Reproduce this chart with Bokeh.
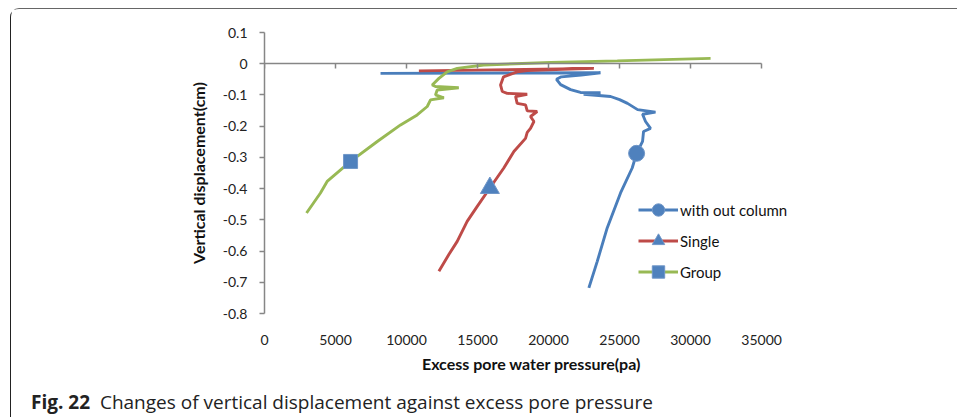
from bokeh.plotting import figure
from bokeh.layouts import column
from bokeh.models import (Range1d, LinearAxis, FixedTicker, Legend, LegendItem, Div)
from bokeh.embed import file_html
from bokeh.resources import INLINE

# Excess pore water pressure (Pa) vs vertical displacement (cm)
without_x = [8170, 23660, 22300, 20900, 20560, 20850, 21550, 22250, 23660, 22470,
             24370, 25000, 25560, 26270, 27530, 26620, 26830, 27180, 26690, 26620,
             26200, 25890, 25070, 24130, 23430, 22840]
without_y = [-0.031, -0.029, -0.036, -0.042, -0.050, -0.067, -0.083, -0.092, -0.093, -0.098,
             -0.105, -0.115, -0.127, -0.147, -0.155, -0.162, -0.185, -0.207, -0.217, -0.249,
             -0.287, -0.334, -0.414, -0.526, -0.633, -0.718]

single_x = [10870, 23190, 21000, 18500, 17790, 16830, 16620, 16740, 17090, 18500,
            17680, 17790, 18380, 18500, 19200, 18730, 18970, 18730, 18500, 18380,
            17560, 16850, 15870, 14980, 14270, 13570, 12980, 12280]
single_y = [-0.023, -0.015, -0.018, -0.022, -0.026, -0.042, -0.068, -0.089, -0.095, -0.098,
            -0.105, -0.127, -0.132, -0.151, -0.153, -0.169, -0.185, -0.207, -0.220, -0.239,
            -0.281, -0.334, -0.398, -0.457, -0.505, -0.569, -0.611, -0.665]

group_x = [31410, 24840, 20140, 15440, 13570, 12860, 12280, 11810, 12040, 13680,
           12160, 12040, 12630, 11690, 11460, 10750, 9580, 7940, 6060, 4410, 3940, 2960]
group_y = [0.017, 0.009, 0.004, -0.004, -0.015, -0.026, -0.047, -0.068, -0.073, -0.077,
           -0.084, -0.100, -0.109, -0.116, -0.137, -0.164, -0.196, -0.249, -0.313, -0.377,
           -0.414, -0.478]

# the single highlighted point of each series
mark_without = (26200, -0.287)
mark_single = (15870, -0.398)
mark_group = (6060, -0.313)

series_names = ["with out column", "Single", "Group"]
x_ticks = [0, 5000, 10000, 15000, 20000, 25000, 30000, 35000]
y_ticks = [0.1, 0.0, -0.1, -0.2, -0.3, -0.4, -0.5, -0.6, -0.7, -0.8]
y_tick_labels = ["0.1", "0", "-0.1", "-0.2", "-0.3", "-0.4", "-0.5", "-0.6", "-0.7", "-0.8"]
caption_head = "Fig. 22"
caption_body = "Changes of vertical displacement against excess pore pressure"

FONT = "Lato"
AXIS_GREY = "#868686"
BLUE_LINE = "#4A7EBB"
RED_LINE = "#BE4B48"
GREEN_LINE = "#98B954"
MARK_FILL = "#4F81BD"
X_BOUNDS = (0, 35000)

# the x range runs a little past the last tick so the legend fits inside the frame;
# the axes themselves stop at 35000
p = figure(width=946, height=374, output_backend="svg", toolbar_location=None,
           x_range=Range1d(0, 37600), y_range=Range1d(-0.8, 0.1),
           x_axis_type=None, y_axis_type=None,
           min_border_left=253, min_border_right=159, min_border_top=23,
           min_border_bottom=70)
p.outline_line_color = None
p.xgrid.visible = False
p.ygrid.visible = False
p.background_fill_color = "white"
p.border_fill_color = "white"

# bottom axis: tick labels and title only
xax = LinearAxis(ticker=FixedTicker(ticks=x_ticks), bounds=X_BOUNDS,
                 axis_label="Excess pore water pressure(pa)")
xax.axis_line_color = None
xax.major_tick_line_color = None
xax.minor_tick_line_color = None
xax.major_label_standoff = 15
xax.major_label_text_font = FONT
xax.major_label_text_font_size = "14px"
xax.major_label_text_color = "#222222"
xax.axis_label_text_font = FONT
xax.axis_label_text_font_style = "bold"
xax.axis_label_text_font_size = "16px"
xax.axis_label_text_color = "#111111"
xax.axis_label_standoff = 6
xax.formatter.use_scientific = False
p.add_layout(xax, "below")

# horizontal axis line crossing at zero displacement
zax = LinearAxis(ticker=FixedTicker(ticks=x_ticks), fixed_location=0, bounds=X_BOUNDS)
zax.axis_line_color = AXIS_GREY
zax.axis_line_width = 1.5
zax.major_tick_line_color = AXIS_GREY
zax.major_tick_line_width = 1.5
zax.major_tick_in = 5
zax.major_tick_out = 0
zax.minor_tick_line_color = None
zax.major_label_text_font_size = "0px"
zax.major_label_text_alpha = 0
p.add_layout(zax, "above")

yax = LinearAxis(ticker=FixedTicker(ticks=y_ticks),
                 axis_label="Vertical displacement(cm)")
yax.major_label_overrides = {t: s for t, s in zip(y_ticks, y_tick_labels)}
yax.axis_line_color = AXIS_GREY
yax.axis_line_width = 1.5
yax.major_tick_line_color = AXIS_GREY
yax.major_tick_line_width = 1.5
yax.major_tick_out = 5
yax.major_tick_in = 0
yax.minor_tick_line_color = None
yax.major_label_standoff = 12
yax.major_label_text_font = FONT
yax.major_label_text_font_size = "14px"
yax.major_label_text_color = "#222222"
yax.axis_label_text_font = FONT
yax.axis_label_text_font_style = "bold"
yax.axis_label_text_font_size = "16px"
yax.axis_label_text_color = "#111111"
yax.axis_label_standoff = 12
p.add_layout(yax, "left")

lw = 2.9
r_without = p.line(without_x, without_y, line_color=BLUE_LINE, line_width=lw)
r_single = p.line(single_x, single_y, line_color=RED_LINE, line_width=lw)
r_group = p.line(group_x, group_y, line_color=GREEN_LINE, line_width=lw)

m_without = p.scatter([mark_without[0]], [mark_without[1]], marker="circle", size=16,
                      fill_color=MARK_FILL, line_color="#6F96C8", line_width=1)
m_single = p.scatter([mark_single[0]], [mark_single[1]], marker="triangle", size=19,
                     fill_color=MARK_FILL, line_color="#6F96C8", line_width=1)
m_group = p.scatter([mark_group[0]], [mark_group[1]], marker="square", size=14,
                    fill_color=MARK_FILL, line_color="#6F96C8", line_width=1)

legend = Legend(items=[
    LegendItem(label=series_names[0], renderers=[r_without, m_without]),
    LegendItem(label=series_names[1], renderers=[r_single, m_single]),
    LegendItem(label=series_names[2], renderers=[r_group, m_group]),
], location=(374, 26))
legend.glyph_width = 40
legend.glyph_height = 31
legend.label_height = 31
legend.spacing = 0
legend.padding = 0
legend.margin = 0
legend.label_standoff = 2
legend.border_line_color = None
legend.background_fill_alpha = 0
legend.label_text_font = FONT
legend.label_text_font_size = "15px"
legend.label_text_color = "#111111"
p.add_layout(legend, "center")

caption = Div(
    text=f"<b>{caption_head}</b>&nbsp; {caption_body}",
    width=946, height=28,
    styles={"font-family": "Open Sans", "font-size": "19px", "line-height": "28px",
            "color": "#222222", "padding-left": "15px", "white-space": "nowrap"})

# panel with a rounded top-left corner around the chart and its caption
page = column(p, caption, spacing=0,
              styles={"margin-left": "10px", "margin-top": "8px",
                      "border-top": "1.5px solid #666666",
                      "border-left": "1.2px solid #222222",
                      "border-top-left-radius": "9px"})

open("out.html", "w").write(file_html(page, INLINE))
